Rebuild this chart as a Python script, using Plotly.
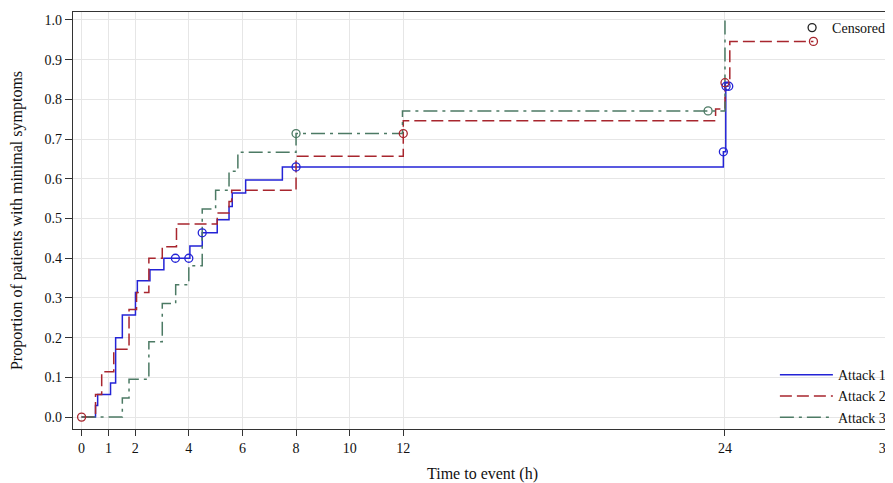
import plotly.graph_objects as go

# ---- data ----
x_ticks = [0, 1, 2, 4, 6, 8, 10, 12, 24, 30]
y_ticks = [0.0, 0.1, 0.2, 0.3, 0.4, 0.5, 0.6, 0.7, 0.8, 0.9, 1.0]

attack1_t = [0, 0.52, 0.6, 1.08, 1.27, 1.52, 2.01, 2.08, 2.55, 3.07, 4.04, 4.5, 5.06, 5.5, 5.62, 6.12, 7.49, 23.94, 24.03, 24.14]
attack1_p = [0, 0.029, 0.057, 0.086, 0.2, 0.257, 0.314, 0.343, 0.371, 0.4, 0.431, 0.464, 0.497, 0.53, 0.564, 0.597, 0.630, 0.668, 0.833, 0.833]
attack1_cens_t = [3.5, 4.0, 4.5, 8.0, 23.94, 24.04, 24.14]
attack1_cens_p = [0.4, 0.4, 0.464, 0.630, 0.668, 0.833, 0.833]

attack2_t = [0, 0.52, 0.75, 1.2, 1.77, 2.05, 2.51, 3.01, 3.54, 5.06, 5.5, 5.6, 8.0, 12.0, 23.65, 24.0, 24.18, 27.3]
attack2_p = [0, 0.057, 0.114, 0.171, 0.271, 0.314, 0.4, 0.429, 0.486, 0.514, 0.543, 0.571, 0.657, 0.746, 0.776, 0.842, 0.946, 0.946]
attack2_cens_t = [0, 12.0, 24.0, 27.3]
attack2_cens_p = [0, 0.714, 0.842, 0.946]

attack3_t = [0, 1.52, 1.77, 2.51, 3.01, 3.51, 4.0, 4.5, 5.0, 5.5, 5.83, 8.0, 11.97, 24.0]
attack3_p = [0, 0.048, 0.095, 0.19, 0.286, 0.333, 0.381, 0.524, 0.571, 0.619, 0.667, 0.714, 0.771, 1.0]
attack3_cens_t = [8.0, 23.37]
attack3_cens_p = [0.714, 0.771]

series = [
    ("Attack 1", attack1_t, attack1_p, attack1_cens_t, attack1_cens_p, "#2323d6", "solid"),
    ("Attack 2", attack2_t, attack2_p, attack2_cens_t, attack2_cens_p, "#a8262e", "12px,5px"),
    ("Attack 3", attack3_t, attack3_p, attack3_cens_t, attack3_cens_p, "#4c7a64", "14px,5px,3px,5px"),
]

FONT = "Liberation Serif"
fig = go.Figure()

for name, t, p, ct, cp, col, dash in series:
    fig.add_trace(go.Scatter(
        x=t, y=p, mode="lines", name=name, line_shape="hv",
        line=dict(color=col, width=1.5, dash=dash), legend="legend",
    ))

for name, t, p, ct, cp, col, dash in series:
    fig.add_trace(go.Scatter(
        x=ct, y=cp, mode="markers", showlegend=False,
        marker=dict(symbol="circle-open", size=8, color=col, line=dict(width=1.3, color=col)),
    ))

# Censored legend entry
fig.add_trace(go.Scatter(
    x=[None], y=[None], mode="markers", name="Censored", legend="legend2",
    marker=dict(symbol="circle-open", size=8, color="#222222", line=dict(width=1.3, color="#222222")),
))

# page body has an 8px margin, so the figure is sized/offset to compensate
fig.update_layout(
    width=885, height=475,
    margin=dict(l=65, r=0, t=4, b=50),
    paper_bgcolor="white", plot_bgcolor="white",
    font=dict(family=FONT, size=14, color="#111111"),
    legend=dict(x=0.857, y=-0.01, xanchor="left", yanchor="bottom",
                bgcolor="rgba(0,0,0,0)", font=dict(family=FONT, size=14),
                itemwidth=53, tracegroupgap=0),
    legend2=dict(x=0.878, y=1.0, xanchor="left", yanchor="top",
                 bgcolor="rgba(0,0,0,0)", font=dict(family=FONT, size=14), itemwidth=30),
    xaxis=dict(
        range=[-0.32, 30.23], tickmode="array", tickvals=x_ticks,
        ticktext=[str(v) for v in x_ticks], ticklabeloverflow="allow",
        showline=True, linecolor="#333333", linewidth=1.2, mirror=True,
        ticks="outside", ticklen=6, tickcolor="#333333",
        showgrid=True, gridcolor="#e6e6e6", gridwidth=1, zeroline=False,
        tickfont=dict(family=FONT, size=14),
        title=dict(text="Time to event (h)", font=dict(family=FONT, size=16), standoff=16),
    ),
    yaxis=dict(
        range=[-0.03, 1.02], tickmode="array", tickvals=y_ticks,
        ticktext=[f"{v:.1f}" for v in y_ticks],
        showline=True, linecolor="#333333", linewidth=1.2,
        ticks="outside", ticklen=7, tickcolor="#333333",
        showgrid=True, gridcolor="#e6e6e6", gridwidth=1, zeroline=False,
        tickfont=dict(family=FONT, size=14),
        title=dict(text="Proportion of patients with minimal symptoms", font=dict(family=FONT, size=16), standoff=18),
    ),
)

fig.write_html("out.html")
